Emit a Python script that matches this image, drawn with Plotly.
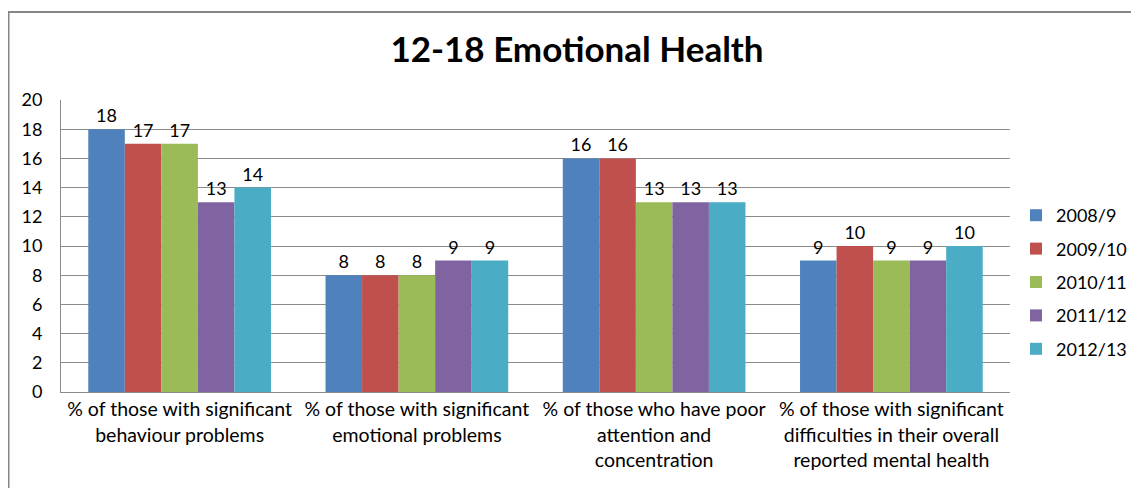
import plotly.graph_objects as go

categories = [
    "% of those with significant<br>behaviour problems",
    "% of those with significant<br>emotional problems",
    "% of those who have poor<br>attention and<br>concentration",
    "% of those with significant<br>difficulties in their overall<br>reported mental health",
]
series_names = ["2008/9", "2009/10", "2010/11", "2011/12", "2012/13"]
v2008 = [18, 8, 16, 9]
v2009 = [17, 8, 16, 10]
v2010 = [17, 8, 13, 9]
v2011 = [13, 9, 13, 9]
v2012 = [14, 9, 13, 10]
values = [v2008, v2009, v2010, v2011, v2012]
colors = ["#4F81BD", "#C0504D", "#9BBB59", "#8064A2", "#4BACC6"]
yticks = list(range(0, 21, 2))

FONT = "Lato"
fig = go.Figure()
for name, vals, c in zip(series_names, values, colors):
    fig.add_trace(go.Bar(
        x=categories, y=vals, name=name, marker_color=c, marker_line_width=0,
        legendgroup=name,
        text=[str(v) for v in vals], textposition="outside", cliponaxis=False,
        textfont=dict(family=FONT, size=18, color="#000000"),
    ))

# page body has an 8px margin; figure coords = screen coords - 8
OFF = 8
W, H = 1139 - OFF, 488 - OFF
L, R, T, B = 61 - OFF, 1010 - OFF, 100 - OFF, 392 - OFF
pw, ph = R - L, B - T
fig.update_layout(
    width=W, height=H,
    margin=dict(l=L, r=W - R, t=T, b=H - B, autoexpand=False),
    paper_bgcolor="white", plot_bgcolor="white",
    barmode="group", bargap=0.23, bargroupgap=0,
    title=dict(text="<b>12-18 Emotional Health</b>", x=(577 - OFF) / W, xanchor="center",
               y=1 - (50 - OFF) / H, yanchor="middle",
               font=dict(family=FONT, size=35, color="#000000")),
    legend=dict(x=(1016 - OFF - L) / pw, xanchor="left", y=(392 - 282) / ph, yanchor="middle",
                font=dict(family=FONT, size=18, color="#000000"),
                itemwidth=30, tracegroupgap=7, traceorder="grouped"),
    font=dict(family=FONT, size=18, color="#000000"),
)
fig.update_yaxes(range=[0, 20], tickvals=yticks, showgrid=True, gridcolor="#8C8C8C",
                 gridwidth=1, showline=True, linecolor="#8C8C8C", linewidth=1,
                 ticks="", automargin=False, ticklabelstandoff=14,
                 tickfont=dict(family=FONT, size=18, color="#000000"), zeroline=False)
fig.update_xaxes(showline=True, linecolor="#8C8C8C", linewidth=1, ticks="",
                 automargin=False,
                 tickfont=dict(family=FONT, size=19.5, color="#000000"))

fig.add_shape(type="rect", xref="paper", yref="paper",
              x0=(0.5 - L) / pw, x1=(W + 10 - L) / pw,
              y0=(B - H - 10) / ph, y1=(B - (12 - OFF)) / ph,
              line=dict(color="#868686", width=2), fillcolor="rgba(0,0,0,0)", layer="below")

fig.write_html("out.html")
